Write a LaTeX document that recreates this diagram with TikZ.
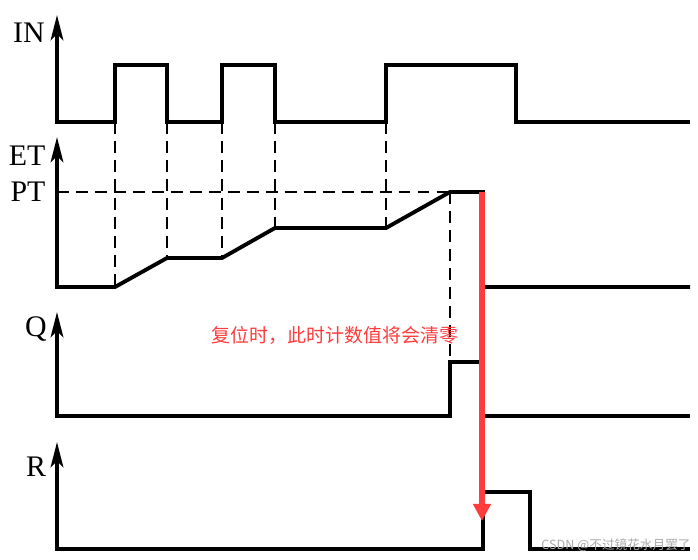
\documentclass[tikz,border=0pt]{standalone}
\usepackage{fontspec}
\setmainfont{Liberation Serif}
\newfontfamily\cjkfont{Noto Sans CJK SC}
\usetikzlibrary{arrows.meta}
\definecolor{resetred}{RGB}{255,59,59}
\definecolor{markgray}{RGB}{170,170,170}

\begin{document}
\begin{tikzpicture}[x=0.02cm,y=-0.02cm,line join=miter,
  sig/.style={line width=2.2pt},
  axisarrow/.style={sig,{Stealth[length=5mm,width=2.5mm,inset=1.2mm]}-},
  guide/.style={line width=1.1pt,dash pattern=on 6.8pt off 4pt},
  lbl/.style={font=\fontsize{17}{17}\selectfont,inner sep=0pt},
  resetarrow/.style={resetred,line width=3pt,-{Triangle[length=3.4mm,width=3.4mm]}}]
\useasboundingbox (0,0) rectangle (698,560);
% axis origins
\coordinate (inO) at (57,122);
\coordinate (etO) at (57,287);
\coordinate (qO) at (57,416);
\coordinate (rO) at (57,549);
% labels
\node[lbl] (lblIN) at (29,33) {IN};
\node[lbl] (lblET) at (27,156) {ET};
\node[lbl] (lblPT) at (28,192) {PT};
\node[lbl] (lblQ) at (36,329) {Q};
\node[lbl] (lblR) at (36,467) {R};
% guide lines
\draw[guide] (57,192) -- (450,192);
\draw[guide] (115,122) -- (115,287);
\draw[guide] (167,122) -- (167,258);
\draw[guide] (222,122) -- (222,258);
\draw[guide] (275,122) -- (275,228);
\draw[guide] (386,122) -- (386,228);
\draw[guide] (450,192) -- (450,362);
% IN
\draw[axisarrow] (57,15) -- (inO) -- (115,122) -- (115,65) -- (167,65) -- (167,122)
  -- (222,122) -- (222,65) -- (275,65) -- (275,122) -- (386,122) -- (386,65)
  -- (516,65) -- (516,122) -- (690,122);
% ET
\draw[axisarrow] (57,137) -- (etO) -- (115,287) -- (167,258) -- (222,258) -- (275,228)
  -- (386,228) -- (450,192) -- (483,192) -- (483,287) -- (690,287);
% Q
\draw[axisarrow] (57,312) -- (qO) -- (450,416) -- (450,362) -- (483,362) -- (483,416)
  -- (690,416);
% R
\draw[axisarrow] (57,442) -- (rO) -- (483,549) -- (483,492) -- (530,492) -- (530,549)
  -- (690,549);
% reset
\coordinate (rstTop) at (482,192);
\coordinate (rstEnd) at (482,521);
\draw[resetarrow] (rstTop) -- (rstEnd);
\node[resetred,font=\cjkfont\fontsize{10.8}{12}\selectfont,inner sep=0pt] (rstNote) at (335,335) {复位时，此时计数值将会清零};
\node[markgray,font=\cjkfont\fontsize{7.2}{8}\selectfont,inner sep=0pt] (mark) at (616,545) {CSDN @不过镜花水月罢了};
\end{tikzpicture}
\end{document}
